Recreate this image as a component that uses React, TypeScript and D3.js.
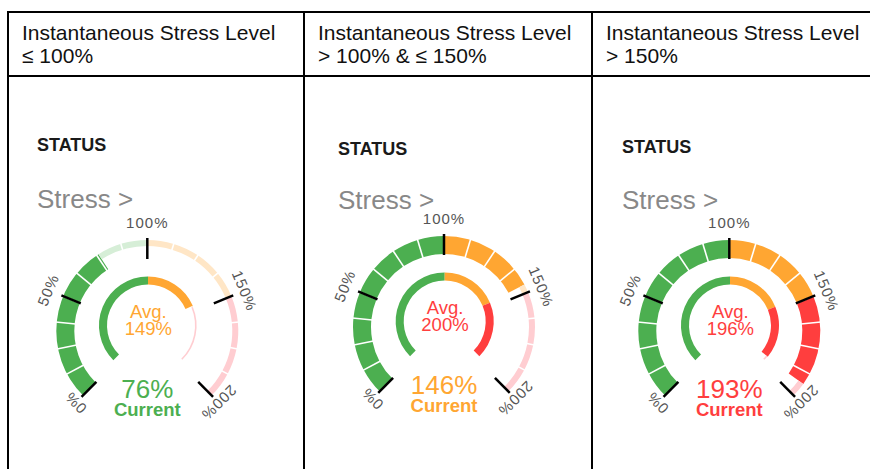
import * as d3 from "d3";

// Werte
const headerLine = "Instantaneous Stress Level";
const panelConditions = ["≤ 100%", "> 100% & ≤ 150%", "> 150%"];
const currentValues = [76, 146, 193];
const averageValues = [149, 200, 196];
const tickValues = [0, 50, 100, 150, 200];
const zoneBreaks = [0, 100, 150, 200];
const segmentStep = 12.5;

const solidColors = ["#4caf50", "#ffa632", "#ff3e3e"];
const lightColors = ["#d6eed7", "#ffe6c6", "#ffcdd1"];

// Lage der drei Spalten (gemessen)
const panels = [
  { left: 8, sx: 37, statusY: 151, stressY: 208, cx: 147.3, cy: 331 },
  { left: 304, sx: 338, statusY: 155, stressY: 209, cx: 444, cy: 327 },
  { left: 592, sx: 622, statusY: 153, stressY: 209, cx: 729.3, cy: 331 },
];
// Abstand der Beschriftung vom Mittelpunkt, je Teilstrich
const labelRadius = [96, 102, 103, 100, 96];

const W = 870;
const H = 469;

const angle = d3.scaleLinear().domain([0, 200]).range([-135, 135]);
const rad = (v: number) => (angle(v) * Math.PI) / 180;
const zoneOf = (v: number) => (v <= 100 ? 0 : v <= 150 ? 1 : 2);

// Zerlegt [0,200] in gefüllte und leere Stücke je Zone
const pieces = (v: number) => {
  const out: { a: number; b: number; zone: number; filled: boolean }[] = [];
  for (let i = 0; i < 3; i++) {
    const z0 = zoneBreaks[i];
    const z1 = zoneBreaks[i + 1];
    if (v > z0) out.push({ a: z0, b: Math.min(v, z1), zone: i, filled: true });
    if (v < z1) out.push({ a: Math.max(v, z0), b: z1, zone: i, filled: false });
  }
  return out;
};

const Gauge = ({ p, cur, avg }: { p: (typeof panels)[0]; cur: number; avg: number }) => {
  const ring = d3.arc<any>().innerRadius(73).outerRadius(91);
  const ringTrack = d3.arc<any>().innerRadius(85).outerRadius(91);
  const inner = d3.arc<any>().innerRadius(41).outerRadius(49);
  const track = d3.arc<any>().innerRadius(47).outerRadius(48.6);
  const seps = d3.range(segmentStep, 200, segmentStep);
  const icx = p.cx + 0.7;
  const icy = p.cy - 5.5;
  return (
    <g>
      <text x={p.sx} y={p.statusY} fontFamily="Liberation Sans, Arial" fontWeight="bold" fontSize={18} fill="#1a1a1a">
        STATUS
      </text>
      <text x={p.sx} y={p.stressY} fontFamily="Liberation Sans, Arial" fontSize={26} fill="#888">
        Stress &gt;
      </text>
      <g transform={`translate(${p.cx},${p.cy})`}>
        {pieces(cur).map((s, i) => (
          <path
            key={i}
            d={(s.filled ? ring : ringTrack)({ startAngle: rad(s.a), endAngle: rad(s.b) }) || ""}
            fill={s.filled ? solidColors[s.zone] : lightColors[s.zone]}
          />
        ))}
        {seps.map((b) => (
          <line
            key={b}
            transform={`rotate(${angle(b)})`}
            x1={0}
            x2={0}
            y1={-72}
            y2={-92}
            stroke="#fff"
            strokeWidth={1.6}
          />
        ))}
        {tickValues.map((t, i) => (
          <g key={t} transform={`rotate(${angle(t)})`}>
            <line x1={0} x2={0} y1={-72} y2={-93} stroke="#000" strokeWidth={2.5} />
            <text
              y={-labelRadius[i]}
              textAnchor="middle"
              fontFamily="Liberation Sans, Arial"
              fontSize={15}
              letterSpacing={1}
              fill="#555"
            >
              {t}%
            </text>
          </g>
        ))}
      </g>
      <g transform={`translate(${icx},${icy})`}>
        {pieces(avg).map((s, i) => (
          <path
            key={i}
            d={(s.filled ? inner : track)({ startAngle: rad(s.a), endAngle: rad(s.b) }) || ""}
            fill={s.filled ? solidColors[s.zone] : lightColors[s.zone]}
          />
        ))}
      </g>
      <g fontFamily="Liberation Sans, Arial" textAnchor="middle">
        <text x={p.cx + 1} y={p.cy - 13} fontSize={18.5} fill={solidColors[zoneOf(avg)]}>
          Avg.
        </text>
        <text x={p.cx + 1} y={p.cy + 4} fontSize={18.5} fill={solidColors[zoneOf(avg)]}>
          {avg}%
        </text>
        <text x={p.cx} y={p.cy + 67} fontSize={26} fill={solidColors[zoneOf(cur)]}>
          {cur}%
        </text>
        <text x={p.cx} y={p.cy + 85} fontSize={18.5} fontWeight="bold" fill={solidColors[zoneOf(cur)]}>
          Current
        </text>
      </g>
    </g>
  );
};

export default function App() {
  return (
    <svg width={W} height={H} style={{ position: "absolute", left: 0, top: 0, background: "#fff" }}>
      <rect width={W} height={H} fill="#fff" />
      {/* Tabelle */}
      <g stroke="#000" strokeWidth={2}>
        <line x1={7} x2={W} y1={12} y2={12} />
        <line x1={7} x2={W} y1={76} y2={76} />
        {panels.map((p) => (
          <line key={p.left} x1={p.left} x2={p.left} y1={11} y2={H} />
        ))}
      </g>
      {panels.map((p, i) => (
        <g key={i} fontFamily="Liberation Sans, Arial" fontSize={21} fill="#111">
          <text x={p.left + 14} y={40}>
            {headerLine}
          </text>
          <text x={p.left + 14} y={63}>
            {panelConditions[i]}
          </text>
        </g>
      ))}
      {panels.map((p, i) => (
        <Gauge key={i} p={p} cur={currentValues[i]} avg={averageValues[i]} />
      ))}
    </svg>
  );
}
